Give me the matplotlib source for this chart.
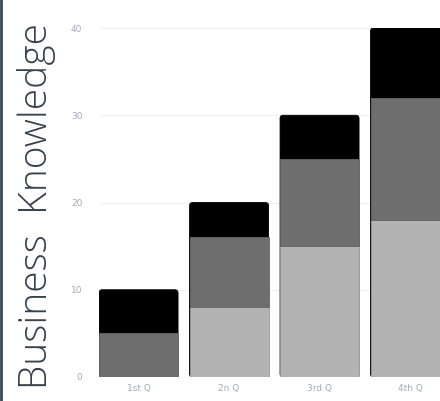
import matplotlib.pyplot as plt
from matplotlib.patches import FancyBboxPatch

# data
quarters = ['1st Q', '2n Q', '3rd Q', '4th Q']
light = [0, 8, 15, 18]
mid = [5, 8, 10, 14]
dark = [5, 4, 5, 8]
yticks = [0, 10, 20, 30, 40]

width = 0.873
fig = plt.figure(figsize=(4.4, 4.01), dpi=100)
# axes runs past the right edge, the last bar is cropped like the original
ax = fig.add_axes([99 / 440, 24 / 401, 362 / 440, 349 / 401])

x = list(range(len(quarters)))
totals = [a + b + c for a, b, c in zip(light, mid, dark)]

# black tops: a rounded box from 0 to the total, lower stacks drawn over it
for xi, t in zip(x, totals):
    box = FancyBboxPatch((xi - width / 2, 0), width, t,
                         boxstyle='round,pad=0,rounding_size=0.035',
                         mutation_aspect=10.4, facecolor='#000000',
                         edgecolor='#000000', linewidth=0.6, zorder=2)
    ax.add_patch(box)

ax.bar(x, light, width, color='#b3b3b3', edgecolor='#9a9a9a', linewidth=0.6, zorder=3)
ax.bar(x, mid, width, bottom=light, color='#6e6e6e', edgecolor='#666666', linewidth=0.6, zorder=3)

ax.set_xlim(-0.437, 3.563)
ax.set_ylim(0, 40)
ax.set_yticks(yticks)
ax.set_xticks(x)
ax.set_xticklabels(quarters)
ax.tick_params(length=0, labelsize=6.5, labelcolor='#a3aab8', pad=5)
ax.tick_params(axis='y', pad=12)
ax.grid(axis='y', color='#f2f2f2', linewidth=0.8, zorder=0)
for s in ax.spines.values():
    s.set_visible(False)

fig.text(0.082, 0.486, 'Business  Knowledge', rotation=90, ha='center', va='center',
         fontsize=28, color='#36414e', family='Open Sans', fontweight='light')

# dark strip at the left edge
fig.add_artist(plt.Line2D([0.003, 0.003], [0, 1], color='#34475a', linewidth=2))

fig.savefig('out.png', dpi=100)
